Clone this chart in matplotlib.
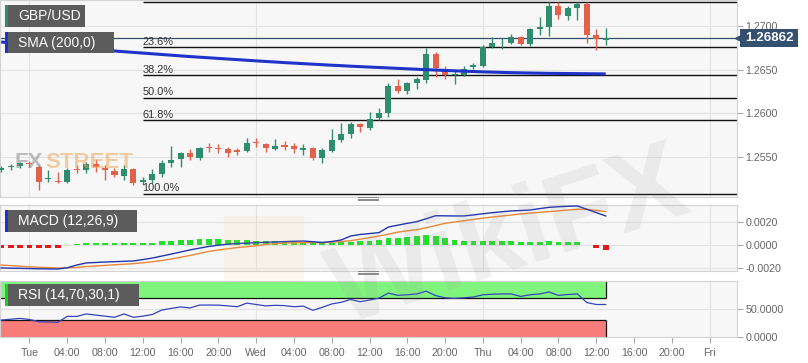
import numpy as np
import matplotlib.pyplot as plt
from matplotlib.patches import Rectangle, FancyBboxPatch
from matplotlib.lines import Line2D

plt.rcParams['font.family'] = ['Liberation Sans', 'DejaVu Sans']

# GBP/USD hourly candles, Mon 21:00 -> Thu 13:00
opens = [1.25351, 1.25386, 1.25397, 1.25431, 1.25386, 1.25248, 1.25225, 1.25214, 1.25363, 1.25351,
         1.25420, 1.25374, 1.25340, 1.25283, 1.25363, 1.25214, 1.25237, 1.25305, 1.25431, 1.25477,
         1.25546, 1.25489, 1.25615, 1.25603, 1.25592, 1.25580, 1.25569, 1.25672, 1.25649, 1.25592,
         1.25637, 1.25626, 1.25580, 1.25603, 1.25489, 1.25569, 1.25695, 1.25763, 1.25878, 1.25832,
         1.25947, 1.26004, 1.26313, 1.26256, 1.26347, 1.26382, 1.26679, 1.26508, 1.26439, 1.26439,
         1.26531, 1.26542, 1.26760, 1.26800, 1.26805, 1.26874, 1.26794, 1.26971, 1.26989, 1.27229,
         1.27115, 1.27206, 1.27252, 1.26897, 1.26840]
highs = [1.25397, 1.25420, 1.25443, 1.25454, 1.25408, 1.25351, 1.25328, 1.25374, 1.25408, 1.25443,
         1.25466, 1.25408, 1.25374, 1.25408, 1.25374, 1.25271, 1.25363, 1.25466, 1.25626, 1.25557,
         1.25592, 1.25615, 1.25660, 1.25649, 1.25615, 1.25603, 1.25718, 1.25718, 1.25660, 1.25706,
         1.25683, 1.25660, 1.25649, 1.25615, 1.25603, 1.25821, 1.25889, 1.25901, 1.25889, 1.26015,
         1.26061, 1.26347, 1.26393, 1.26359, 1.26416, 1.26748, 1.26702, 1.26542, 1.26485, 1.26542,
         1.26576, 1.26782, 1.26874, 1.26863, 1.26908, 1.26886, 1.26977, 1.27103, 1.27275, 1.27275,
         1.27229, 1.27275, 1.27275, 1.26966, 1.26977]
lows = [1.25328, 1.25351, 1.25374, 1.25386, 1.25122, 1.25214, 1.25202, 1.25202, 1.25317, 1.25317,
        1.25328, 1.25237, 1.25271, 1.25237, 1.25179, 1.25179, 1.25202, 1.25271, 1.25386, 1.25386,
        1.25466, 1.25466, 1.25557, 1.25546, 1.25500, 1.25523, 1.25557, 1.25615, 1.25557, 1.25580,
        1.25580, 1.25546, 1.25523, 1.25466, 1.25431, 1.25557, 1.25672, 1.25718, 1.25786, 1.25809,
        1.25924, 1.25958, 1.26233, 1.26221, 1.26279, 1.26347, 1.26416, 1.26393, 1.26336, 1.26428,
        1.26508, 1.26531, 1.26748, 1.26737, 1.26794, 1.26782, 1.26771, 1.26897, 1.26886, 1.27080,
        1.27069, 1.27069, 1.26805, 1.26725, 1.26782]
closes = [1.25374, 1.25397, 1.25431, 1.25420, 1.25214, 1.25260, 1.25214, 1.25351, 1.25351, 1.25420,
          1.25386, 1.25351, 1.25294, 1.25363, 1.25202, 1.25237, 1.25305, 1.25431, 1.25466, 1.25546,
          1.25500, 1.25603, 1.25603, 1.25592, 1.25546, 1.25557, 1.25660, 1.25660, 1.25603, 1.25626,
          1.25615, 1.25592, 1.25603, 1.25489, 1.25580, 1.25695, 1.25763, 1.25878, 1.25844, 1.25935,
          1.26004, 1.26313, 1.26256, 1.26347, 1.26393, 1.26679, 1.26519, 1.26439, 1.26450, 1.26508,
          1.26553, 1.26760, 1.26805, 1.26811, 1.26874, 1.26794, 1.26966, 1.26989, 1.27229, 1.27126,
          1.27206, 1.27252, 1.26897, 1.26851, 1.26862]
sma200 = [1.26817, 1.26808, 1.26800, 1.26791, 1.26782, 1.26774, 1.26765, 1.26756, 1.26748, 1.26739,
          1.26731, 1.26722, 1.26714, 1.26706, 1.26698, 1.26690, 1.26682, 1.26674, 1.26666, 1.26658,
          1.26650, 1.26643, 1.26636, 1.26629, 1.26622, 1.26615, 1.26608, 1.26601, 1.26594, 1.26588,
          1.26581, 1.26575, 1.26569, 1.26563, 1.26557, 1.26551, 1.26546, 1.26540, 1.26535, 1.26530,
          1.26525, 1.26520, 1.26515, 1.26510, 1.26505, 1.26500, 1.26496, 1.26491, 1.26487, 1.26483,
          1.26479, 1.26475, 1.26472, 1.26469, 1.26466, 1.26464, 1.26462, 1.26460, 1.26458, 1.26457,
          1.26456, 1.26455, 1.26454, 1.26453, 1.26452]
macd_line = [-0.00197, -0.00199, -0.00200, -0.00202, -0.00204, -0.00205, -0.00206, -0.00195, -0.00172, -0.00154,
             -0.00150, -0.00146, -0.00143, -0.00140, -0.00137, -0.00125, -0.00112, -0.00095, -0.00078, -0.00060,
             -0.00042, -0.00027, -0.00012, -0.00002, 0.00007, 0.00012, 0.00016, 0.00020, 0.00023, 0.00026,
             0.00029, 0.00032, 0.00034, 0.00028, 0.00022, 0.00030, 0.00043, 0.00077, 0.00090, 0.00098,
             0.00106, 0.00154, 0.00170, 0.00186, 0.00200, 0.00225, 0.00251, 0.00250, 0.00249, 0.00249,
             0.00258, 0.00268, 0.00277, 0.00285, 0.00292, 0.00296, 0.00300, 0.00312, 0.00323, 0.00328,
             0.00332, 0.00335, 0.00306, 0.00278, 0.00249]
macd_signal = [-0.00172, -0.00177, -0.00182, -0.00187, -0.00191, -0.00194, -0.00197, -0.00196, -0.00193, -0.00185,
               -0.00180, -0.00175, -0.00170, -0.00165, -0.00160, -0.00153, -0.00144, -0.00133, -0.00120, -0.00105,
               -0.00090, -0.00072, -0.00055, -0.00043, -0.00032, -0.00022, -0.00015, -0.00006, 0.00004, 0.00012,
               0.00017, 0.00019, 0.00020, 0.00020, 0.00020, 0.00024, 0.00030, 0.00037, 0.00050, 0.00063,
               0.00077, 0.00093, 0.00110, 0.00122, 0.00131, 0.00148, 0.00167, 0.00186, 0.00197, 0.00208,
               0.00220, 0.00230, 0.00240, 0.00248, 0.00257, 0.00266, 0.00273, 0.00280, 0.00286, 0.00293,
               0.00300, 0.00306, 0.00306, 0.00297, 0.00286]
macd_hist = [-0.00022, -0.00022, -0.00022, -0.00022, -0.00022, -0.00022, -0.00022, 0.0, 0.00008, 0.00015,
             0.00015, 0.00015, 0.00015, 0.00015, 0.00015, 0.00020, 0.00020, 0.00035, 0.00035, 0.00045,
             0.00045, 0.00050, 0.00050, 0.00050, 0.00040, 0.00040, 0.00040, 0.00030, 0.00030, 0.00030,
             0.00022, 0.00022, 0.00022, 0.00015, 0.00015, 0.00020, 0.00023, 0.00029, 0.00034, 0.00037,
             0.00043, 0.00063, 0.00063, 0.00071, 0.00077, 0.00086, 0.00077, 0.00057, 0.00043, 0.00037,
             0.00034, 0.00037, 0.00037, 0.00037, 0.00034, 0.00026, 0.00026, 0.00026, 0.00034, 0.00029,
             0.00029, 0.00026, 0.0, -0.00029, -0.00043]
rsi = [30, 31.5, 33, 31, 27, 26.5, 25.8, 36.7, 36.5, 41,
       39, 37, 35, 41, 35, 37, 40, 48, 51, 53.6,
       51.8, 57, 57, 56.8, 55.5, 54, 60.5, 58, 55.5, 56.5,
       56, 54, 55, 47.5, 53, 59, 62, 67, 63, 66,
       69.5, 78.5, 74.5, 75.5, 77, 82, 74, 70, 69, 70,
       71.5, 75.5, 76.5, 77, 77, 72.5, 75.5, 77, 80.5, 74.5,
       76, 77, 61.5, 58, 58]

tick_labels = ['Tue', '04:00', '08:00', '12:00', '16:00', '20:00',
               'Wed', '04:00', '08:00', '12:00', '16:00', '20:00',
               'Thu', '04:00', '08:00', '12:00', '16:00', '20:00', 'Fri']
first_tick = 3          # Tue 00:00 is the 4th candle
fib_high = 1.27275
fib_low = 1.25080
fib_ratios = [0.0, 0.236, 0.382, 0.5, 0.618, 1.0]
fib_start = 15          # Tue 12:00
rsi_upper, rsi_lower = 70, 30

W, H = 808, 363
fig = plt.figure(figsize=(W / 100, H / 100), dpi=100)
fig.patch.set_facecolor('white')


def px_axes(x0, y0, x1, y1):
    return fig.add_axes([x0 / W, 1 - y1 / H, (x1 - x0) / W, (y1 - y0) / H])


ax = px_axes(0, 0, 737, 197)
axm = px_axes(0, 205, 737, 271)
axr = px_axes(0, 281, 737, 337)

idx = np.arange(len(closes))
xmin, xmax = -0.12, 77.9
tick_pos = [first_tick + 4 * k for k in range(len(tick_labels))]
day_pos = [p for p, t in zip(tick_pos, tick_labels) if ':' not in t]


def style(a, yticks, fmt, ylim, bottom=False):
    a.set_facecolor('#f7f7f7')
    a.set_xlim(xmin, xmax)
    a.set_ylim(ylim)
    a.set_axisbelow(True)
    a.yaxis.tick_right()
    a.set_yticks(yticks)
    a.set_yticklabels([fmt % v for v in yticks])
    a.tick_params(axis='y', direction='out', length=4, width=0.8, color='#aaaaaa',
                  labelcolor='#666666', labelsize=7.7, pad=2)
    for s in a.spines.values():
        s.set_color('#d3d3d3')
        s.set_linewidth(0.8)
    a.grid(axis='y', color='#e3e3e3', lw=0.8)
    for p in day_pos:
        a.axvline(p, color='#e3e3e3', lw=0.8, zorder=0)
    a.set_xticks(tick_pos)
    if bottom:
        a.set_xticklabels(tick_labels)
        a.tick_params(axis='x', direction='out', length=4, width=0.8, color='#aaaaaa',
                      labelcolor='#666666', labelsize=7.7, pad=4)
    else:
        a.tick_params(axis='x', length=0, labelbottom=False)


# price panel
style(ax, [1.2550, 1.2600, 1.2650, 1.2700], '%.4f', (1.25042, 1.27298))
o = np.array(opens); c = np.array(closes)
cols = np.where(c >= o, '#2e8c6f', '#e2614a')
ax.vlines(idx, lows, highs, colors=cols, lw=1, zorder=3)
body = np.maximum(np.abs(c - o), 0.00002)
ax.bar(idx, body, bottom=np.minimum(o, c), width=0.64, color=cols, zorder=3)
ax.plot(idx, sma200, color='#1f33c9', lw=2.2, zorder=4, solid_capstyle='butt')
ax.axhline(closes[-1], color='#34506f', lw=0.9, zorder=2)

for r in fib_ratios:
    lvl = fib_high - r * (fib_high - fib_low)
    ax.hlines(lvl, fib_start, xmax, color='#111111', lw=1.0, zorder=2)
    ax.text(fib_start - 0.05, lvl + 0.00004, '%.1f%%' % (r * 100), fontsize=7.9, color='#333333',
            ha='left', va='bottom', clip_on=True, zorder=5)

# MACD panel
style(axm, [-0.002, 0.0, 0.002], '%.4f', (-0.00223, 0.00343))
hcols = ['#22e02a' if v >= 0 else '#e01b1b' for v in macd_hist]
axm.bar(idx, macd_hist, width=0.62, color=hcols, zorder=2)
axm.plot(idx, macd_signal, color='#e8873a', lw=1.0, zorder=3)
axm.plot(idx, macd_line, color='#2236b0', lw=1.0, zorder=4)

# RSI panel
style(axr, [0.0, 50.0], '%.4f', (-0.5, 100.3), bottom=True)
last = idx[-1]
axr.fill_between([xmin, last], rsi_upper, 100.3, color='#80f57e', lw=0, zorder=1)
axr.fill_between([xmin, last], -0.5, rsi_lower, color='#f77d7b', lw=0, zorder=1)
axr.hlines([rsi_upper, rsi_lower], xmin, last, color='#111111', lw=0.9, zorder=2)
axr.vlines(last, rsi_upper, 100.3, color='#111111', lw=0.9, zorder=2)
axr.vlines(last, -0.5, rsi_lower, color='#111111', lw=0.9, zorder=2)
axr.plot(idx, rsi, color='#3344bb', lw=0.9, zorder=3)


# label tags
def tag(x0, y0, x1, y1, text, stripe):
    fig.add_artist(Rectangle((x0 / W, 1 - y1 / H), (x1 - x0) / W, (y1 - y0) / H,
                             transform=fig.transFigure, fc='#5c5c5c', ec='none', zorder=10))
    fig.add_artist(Rectangle((x0 / W, 1 - y1 / H), 2.5 / W, (y1 - y0) / H,
                             transform=fig.transFigure, fc=stripe, ec='none', zorder=11))
    fig.text((x0 + 13) / W, 1 - (y0 + y1) / 2 / H, text, color='white', fontsize=10,
             ha='left', va='center', zorder=12)


tag(5, 5, 85, 27, 'GBP/USD', '#2e8c6f')
tag(5, 32, 114, 53, 'SMA (200,0)', '#1f33c9')
tag(5, 210, 137, 232, 'MACD (12,26,9)', '#1f33c9')
tag(5, 284, 139, 306, 'RSI (14,70,30,1)', '#22cc22')

# current price tag
fig.canvas.draw()
yd = ax.transData.transform((0, closes[-1]))[1]
fig.add_artist(Rectangle((740 / W, (yd - 9) / H), 58 / W, 18 / H, transform=fig.transFigure,
                         fc='#34506f', ec='none', zorder=13))
fig.add_artist(Line2D([737.5 / W], [yd / H], marker='<', ms=4, color='#34506f',
                      transform=fig.transFigure, zorder=13))
fig.text(769 / W, yd / H, '%.5f' % closes[-1], color='white', fontsize=9.6, fontweight='bold',
         ha='center', va='center', zorder=14)

# panel handles
for yy in (198.5, 272.5):
    for dy in (-1.5, 0, 1.5):
        fig.add_artist(Line2D([358 / W, 378 / W], [1 - (yy + dy) / H] * 2, color='#8a8a8a',
                              lw=0.7, transform=fig.transFigure, zorder=9))

# watermarks
fig.text(15 / W, 1 - 163 / H, 'FX', fontsize=16, fontweight='bold', color='#8a8a8a', alpha=0.55,
         ha='left', va='center', zorder=6)
fig.text(45 / W, 1 - 163 / H, 'STREET', fontsize=16, fontweight='bold', color='#eea050', alpha=0.5,
         ha='left', va='center', zorder=6)
fig.add_artist(FancyBboxPatch((228 / W, 1 - 280 / H), 72 / W, 62 / H, boxstyle='round,pad=0.005',
                              transform=fig.transFigure, fc='#f5c060', ec='none', alpha=0.09, zorder=6))
fig.text(510 / W, 1 - 240 / H, 'WikiFX', fontsize=80, fontweight='bold', color='#909090', alpha=0.13,
         rotation=18, ha='center', va='center', zorder=6)

fig.savefig('out.png', dpi=100)
